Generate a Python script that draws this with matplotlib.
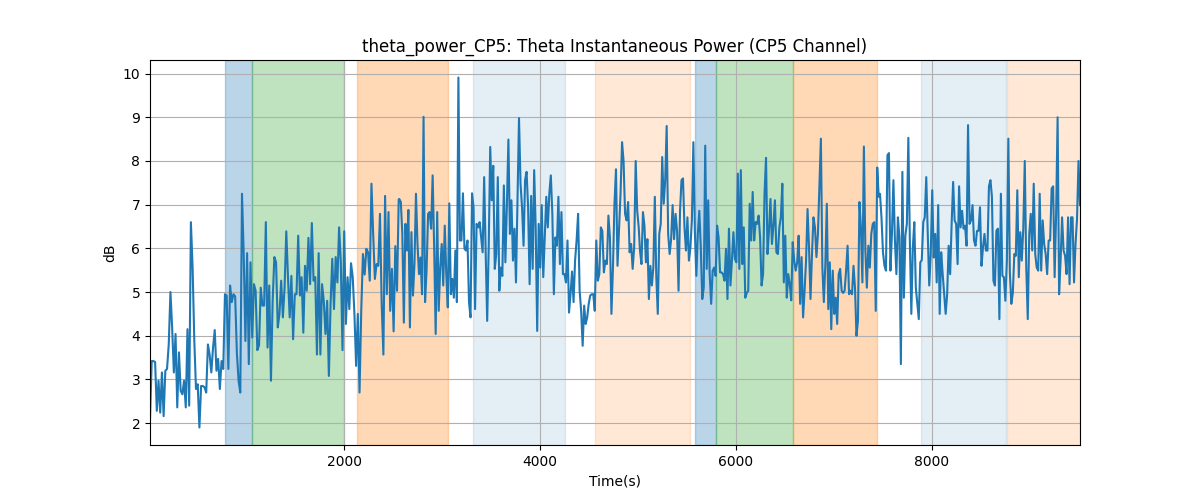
import matplotlib

matplotlib.use("Agg")
import matplotlib.pyplot as plt
import numpy as np

# theta power (dB) in four consecutive stretches
seg1_db = [
    2.09, 3.42, 3.42, 3.4, 2.28, 2.97, 2.24, 3.16, 2.16, 3.2, 3.24,
    3.8, 5.0, 4.19, 3.16, 4.04, 2.36, 3.62, 2.74, 2.66, 2.97,
    2.36, 4.15, 2.4, 6.6, 5.57, 3.9, 2.78, 2.89, 1.9, 2.85, 2.85,
    2.82, 2.7, 3.8, 3.57, 3.16, 3.73, 4.13, 3.2, 3.47, 2.78,
    3.42, 3.24, 4.95, 4.92, 3.24, 5.15, 4.77, 4.95, 4.9, 3.6, 2.97,
    2.7, 7.25, 5.87, 3.88, 5.89, 3.35, 5.68, 3.96, 5.18, 5.03,
    3.67, 3.78, 5.1, 4.69, 4.69, 6.6, 3.73, 5.15, 2.97, 4.8,
    5.8, 5.68, 4.19, 4.5, 5.26, 4.42, 5.1, 6.39, 5.34, 4.42,
    5.37, 3.92, 4.95, 4.95, 6.29, 4.92, 5.34, 4.07, 5.6, 5.03,
    6.24, 5.18, 6.58, 5.26, 5.34, 3.57, 5.89, 3.57, 5.18, 4.8,
    4.04, 4.8, 3.08, 4.73, 5.76, 4.61, 5.8, 5.22, 6.48, 5.68,
    3.67, 6.39, 4.27, 5.34, 4.61, 5.66, 5.34, 4.5, 3.31, 4.5,
    2.7, 4.57, 5.87, 5.4, 5.99, 5.91, 5.26, 7.48, 6.33, 5.3,
    5.64, 5.6, 6.79, 4.73, 3.57, 7.2, 4.95, 6.83, 4.57, 5.53,
    4.1, 6.05, 5.03, 7.12,
]
seg2_db = [
    7.13, 7.06, 6.33, 4.3, 6.56, 5.95, 6.88, 4.19, 6.37, 4.92,
    5.64, 7.25, 6.1, 5.41, 5.79, 4.95, 9.01, 4.77, 5.5, 6.79, 6.83, 6.45,
    7.67, 6.02, 4.04, 6.83, 4.57, 5.56, 6.1, 5.15, 6.52, 5.41,
    4.65, 7.03, 4.95, 5.3, 4.87, 5.95, 4.77, 9.91, 6.18, 6.18, 7.26,
    5.99, 5.95, 6.18, 4.77, 4.42, 7.26, 6.94, 4.61, 6.56, 6.48,
    6.6, 6.25, 5.91, 7.63, 5.91, 4.34, 6.02, 8.32, 7.1, 7.89,
    5.53, 5.87, 7.63, 5.03, 5.56, 5.37, 7.44, 5.68, 6.99, 8.49,
    6.33, 7.1, 5.72, 6.45, 5.22, 7.06, 8.98, 7.48, 6.94, 6.06,
    7.56, 7.75, 6.94, 5.18, 7.2, 5.53, 7.79, 6.48, 4.11, 6.56,
    5.56, 6.99, 5.34, 6.25, 7.18, 6.48, 7.25, 7.67, 6.79, 4.95,
    6.25, 6.06, 7.18, 5.64, 6.83, 5.41, 5.41, 5.22, 6.18, 4.53,
    4.95, 5.47, 4.77, 5.72, 6.18, 6.79, 5.03, 4.57, 3.77, 4.69,
    4.27, 4.42, 4.73, 4.92, 4.95, 4.95, 4.57, 6.18, 5.26, 5.41,
    6.48, 6.4, 5.45, 5.72, 5.64, 6.75, 6.25, 4.5, 5.56, 7.02,
    7.81, 5.6, 6.4, 7.25, 8.43, 8.0, 6.79, 6.64, 7.06, 5.91,
    6.1, 5.53, 6.02, 8.0, 6.86, 6.48,
]
seg3_db = [
    5.95, 5.64, 6.83, 6.52, 5.68, 6.21, 4.84, 5.6, 5.15, 5.56,
    7.18, 5.34, 4.5, 6.33, 6.56, 8.09, 7.02, 7.56, 8.8, 6.33,
    5.87, 6.21, 6.99, 6.21, 6.79, 6.4, 5.03, 6.86, 7.56, 7.6,
    6.48, 5.95, 6.71, 5.72, 6.02, 6.64, 8.43, 6.4, 5.37, 6.33,
    6.86, 6.02, 4.84, 5.1, 8.35, 5.53, 7.1, 5.41, 4.73, 5.49,
    5.56, 5.37, 6.52, 6.25, 5.45, 5.45, 5.41, 5.26, 5.99, 4.84,
    6.45, 5.15, 5.72, 6.37, 5.76, 5.68, 7.71, 5.53, 7.79, 5.64,
    6.48, 4.87, 4.98, 5.03, 7.02, 6.18, 7.29, 6.18, 6.6, 6.56,
    6.75, 6.25, 5.15, 5.41, 7.25, 8.07, 5.87, 6.4, 7.13, 6.1,
    6.52, 7.1, 5.91, 5.87, 6.48, 6.71, 7.48, 5.22, 6.29, 4.87,
    5.41, 5.18, 4.81, 6.14, 5.72, 5.49, 5.68, 6.29, 4.73, 5.8,
    4.42, 5.03, 5.72, 6.9, 6.02, 4.84, 5.87, 6.71, 6.48, 5.8,
    6.33, 7.44, 8.51, 5.56, 4.77, 5.64, 7.02, 4.61, 5.68, 4.15,
    5.49, 4.5, 4.87, 4.27, 5.41, 5.53, 5.03, 4.98, 5.03, 5.49,
    6.06, 4.95, 5.03, 4.95, 5.6, 5.1, 4.0, 4.34, 7.06, 6.48,
    5.22, 8.33, 5.95, 5.1, 6.06, 5.56, 6.33, 6.56, 6.6, 4.57,
    7.85, 7.18,
]
seg4_db = [
    7.25, 6.71, 5.91, 5.6, 5.49, 8.13, 8.18, 5.49, 6.33, 7.56,
    6.18, 5.41, 6.71, 6.25, 3.35, 7.75, 4.87, 6.29, 6.56, 8.53,
    6.18, 4.5, 6.02, 6.6, 5.1, 4.73, 4.38, 5.68, 5.73, 6.6,
    6.71, 7.63, 6.33, 5.15, 5.87, 7.33, 5.79, 6.33, 5.22, 6.99,
    4.5, 5.91, 5.41, 4.95, 4.5, 4.95, 6.06, 5.41, 6.56, 7.52,
    6.64, 6.56, 5.64, 7.42, 6.48, 6.86, 6.45, 6.52, 6.06, 8.82,
    6.56, 6.64, 6.99, 6.18, 6.06, 6.4, 6.4, 6.94, 5.6, 6.02,
    6.33, 5.95, 5.95, 7.42, 7.56, 7.18, 5.26, 5.15, 6.4, 6.45,
    4.38, 7.25, 5.37, 5.34, 4.8, 5.72, 8.51, 5.45, 4.73, 4.98,
    5.87, 5.83, 7.33, 5.34, 6.37, 5.72, 6.45, 8.0, 5.56, 4.38,
    6.33, 6.79, 5.95, 7.48, 5.87, 5.56, 5.49, 7.25, 5.49, 6.64,
    6.1, 5.87, 5.41, 6.18, 6.18, 7.37, 7.42, 5.34, 6.79, 9.0,
    4.95, 5.72, 6.71, 5.95, 5.83, 5.41, 6.71, 5.18, 6.71, 6.71,
    5.22, 6.1, 6.67, 8.0, 6.99,
]
# time (s) covered by each stretch
seg_bounds = [(20, 2558), (2564, 5007), (5020, 7456), (7469, 9510)]

# shaded phases: (start, end, colour, alpha)
phases = [
    (786, 1058, "tab:blue", 0.3),
    (1058, 2003, "tab:green", 0.3),
    (2133, 3058, "tab:orange", 0.3),
    (3316, 4252, "tab:blue", 0.12),
    (4561, 5531, "tab:orange", 0.17),
    (5582, 5793, "tab:blue", 0.3),
    (5793, 6585, "tab:green", 0.3),
    (6585, 7442, "tab:orange", 0.3),
    (7888, 8752, "tab:blue", 0.12),
    (8765, 9510, "tab:orange", 0.17),
]

segs = [seg1_db, seg2_db, seg3_db, seg4_db]
t = np.concatenate([np.linspace(a, b, len(s)) for (a, b), s in zip(seg_bounds, segs)])
y = np.concatenate([np.array(s) for s in segs])

fig, ax = plt.subplots(figsize=(12, 5))
for start, end, color, alpha in phases:
    ax.axvspan(start, end, color=color, alpha=alpha)
ax.plot(t, y, color="tab:blue", lw=1.5)
ax.set_xlim(t[0], t[-1])
ax.grid(True)
ax.set_title("theta_power_CP5: Theta Instantaneous Power (CP5 Channel)")
ax.set_xlabel("Time(s)")
ax.set_ylabel("dB")
fig.savefig("out.png", dpi=100)
